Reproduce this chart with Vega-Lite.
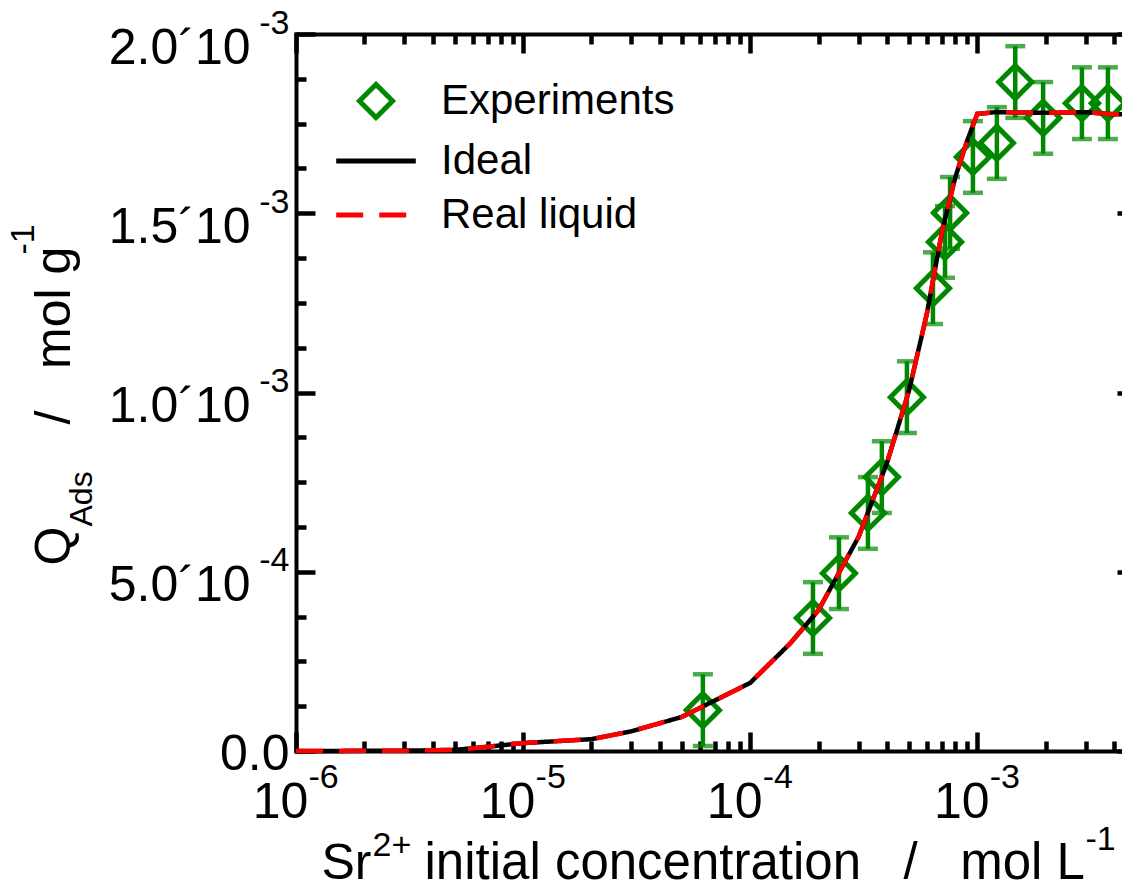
{
  "$schema": "https://vega.github.io/schema/vega-lite/v6.json",
  "width": 826,
  "height": 717,
  "autosize": {"type": "none"},
  "padding": {"left": 296, "top": 34, "right": 0, "bottom": 138},
  "background": "white",
  "usermeta": {"embedOptions": {"actions": false}},
  "config": {
    "view": {"stroke": null},
    "font": "Liberation Sans",
    "axis": {
      "grid": false,
      "labelFont": "Liberation Sans",
      "titleFont": "Liberation Sans",
      "labelColor": "black",
      "titleColor": "black",
      "tickColor": "black",
      "domainColor": "black",
      "titleFontWeight": "normal",
      "labelOverlap": false,
      "labelFlush": false,
      "labelBound": false,
      "labelLimit": 0,
      "titleLimit": 0
    },
    "legend": {
      "orient": "none",
      "legendX": 59,
      "legendY": 46,
      "labelFont": "Liberation Sans",
      "labelFontSize": 42,
      "labelColor": "black",
      "symbolSize": 1100,
      "symbolStrokeWidth": 5,
      "labelOffset": 44,
      "rowPadding": 12,
      "padding": 0,
      "labelLimit": 0
    }
  },
  "datasets": {
    "exp": [
      {"c": 6.19e-5, "q": 1.14e-4, "err": 1e-4, "series": "Experiments"},
      {"c": 1.89e-4, "q": 3.71e-4, "err": 1e-4, "series": "Experiments"},
      {"c": 2.46e-4, "q": 4.96e-4, "err": 1e-4, "series": "Experiments"},
      {"c": 3.30e-4, "q": 6.64e-4, "err": 1e-4, "series": "Experiments"},
      {"c": 3.80e-4, "q": 7.64e-4, "err": 1e-4, "series": "Experiments"},
      {"c": 4.90e-4, "q": 9.87e-4, "err": 1e-4, "series": "Experiments"},
      {"c": 6.38e-4, "q": 1.291e-3, "err": 1e-4, "series": "Experiments"},
      {"c": 7.21e-4, "q": 1.420e-3, "err": 1e-4, "series": "Experiments"},
      {"c": 7.59e-4, "q": 1.501e-3, "err": 1e-4, "series": "Experiments"},
      {"c": 9.57e-4, "q": 1.657e-3, "err": 1e-4, "series": "Experiments"},
      {"c": 1.22e-3, "q": 1.696e-3, "err": 1e-4, "series": "Experiments"},
      {"c": 1.47e-3, "q": 1.866e-3, "err": 1e-4, "series": "Experiments"},
      {"c": 1.95e-3, "q": 1.766e-3, "err": 1e-4, "series": "Experiments"},
      {"c": 2.89e-3, "q": 1.807e-3, "err": 1e-4, "series": "Experiments"},
      {"c": 3.76e-3, "q": 1.807e-3, "err": 1e-4, "series": "Experiments"}
    ],
    "ideal": [
      {"c": 1e-6, "q": 0, "series": "Ideal"},
      {"c": 2e-6, "q": 0.0000005, "series": "Ideal"},
      {"c": 3e-6, "q": 0.000001, "series": "Ideal"},
      {"c": 5e-6, "q": 0.000003, "series": "Ideal"},
      {"c": 7e-6, "q": 0.000012, "series": "Ideal"},
      {"c": 1e-5, "q": 0.000022, "series": "Ideal"},
      {"c": 2e-5, "q": 0.000033, "series": "Ideal"},
      {"c": 3e-5, "q": 0.000055, "series": "Ideal"},
      {"c": 5e-5, "q": 0.000095, "series": "Ideal"},
      {"c": 1e-4, "q": 0.00019, "series": "Ideal"},
      {"c": 1.5e-4, "q": 0.0003, "series": "Ideal"},
      {"c": 2e-4, "q": 0.000393, "series": "Ideal"},
      {"c": 3e-4, "q": 0.000597, "series": "Ideal"},
      {"c": 4e-4, "q": 0.000803, "series": "Ideal"},
      {"c": 5e-4, "q": 0.001004, "series": "Ideal"},
      {"c": 6e-4, "q": 0.00122, "series": "Ideal"},
      {"c": 7e-4, "q": 0.00145, "series": "Ideal"},
      {"c": 8e-4, "q": 0.0016, "series": "Ideal"},
      {"c": 9e-4, "q": 0.0017, "series": "Ideal"},
      {"c": 1e-3, "q": 0.001777, "series": "Ideal"},
      {"c": 1.2e-3, "q": 0.001782, "series": "Ideal"},
      {"c": 2e-3, "q": 0.00178, "series": "Ideal"},
      {"c": 3e-3, "q": 0.001782, "series": "Ideal"},
      {"c": 4e-3, "q": 0.001776, "series": "Ideal"},
      {"c": 5e-3, "q": 0.001776, "series": "Ideal"}
    ],
    "real": [
      {"c": 1e-6, "q": 0, "series": "Real liquid"},
      {"c": 2e-6, "q": 0.0000005, "series": "Real liquid"},
      {"c": 3e-6, "q": 0.000001, "series": "Real liquid"},
      {"c": 5e-6, "q": 0.000003, "series": "Real liquid"},
      {"c": 7e-6, "q": 0.000012, "series": "Real liquid"},
      {"c": 1e-5, "q": 0.000022, "series": "Real liquid"},
      {"c": 2e-5, "q": 0.000033, "series": "Real liquid"},
      {"c": 3e-5, "q": 0.000055, "series": "Real liquid"},
      {"c": 5e-5, "q": 0.000095, "series": "Real liquid"},
      {"c": 1e-4, "q": 0.00019, "series": "Real liquid"},
      {"c": 1.5e-4, "q": 0.0003, "series": "Real liquid"},
      {"c": 2e-4, "q": 0.000393, "series": "Real liquid"},
      {"c": 3e-4, "q": 0.000597, "series": "Real liquid"},
      {"c": 4e-4, "q": 0.000803, "series": "Real liquid"},
      {"c": 5e-4, "q": 0.001004, "series": "Real liquid"},
      {"c": 6e-4, "q": 0.00122, "series": "Real liquid"},
      {"c": 7e-4, "q": 0.00145, "series": "Real liquid"},
      {"c": 8e-4, "q": 0.0016, "series": "Real liquid"},
      {"c": 9e-4, "q": 0.0017, "series": "Real liquid"},
      {"c": 1e-3, "q": 0.001777, "series": "Real liquid"},
      {"c": 1.2e-3, "q": 0.001782, "series": "Real liquid"},
      {"c": 2e-3, "q": 0.00178, "series": "Real liquid"},
      {"c": 3e-3, "q": 0.001782, "series": "Real liquid"},
      {"c": 4e-3, "q": 0.001776, "series": "Real liquid"},
      {"c": 5e-3, "q": 0.001776, "series": "Real liquid"}
    ]
  },
  "layer": [
    {
      "data": {"name": "exp"},
      "mark": {"type": "errorbar", "ticks": true, "thickness": 4.5, "size": 20, "color": "#008800"},
      "encoding": {
        "x": {
          "field": "c", "type": "quantitative",
          "scale": {"type": "log", "domain": [1e-6, 5e-3], "range": [0, 840], "nice": false},
          "axis": {"orient": "bottom", "ticks": false, "domain": false, "labels": false,
            "title": "initial concentration\u00a0\u00a0\u00a0/\u00a0\u00a0\u00a0mol L", "titleFontSize": 51, "titleAlign": "left", "titleBaseline": "alphabetic", "titleAngle": 0, "titleX": 128, "titleY": 127}
        },
        "y": {
          "field": "q", "type": "quantitative",
          "scale": {"type": "linear", "domain": [0, 0.002], "nice": false, "zero": false},
          "axis": {"orient": "left", "ticks": false, "domain": false, "labels": false,
            "title": "/\u00a0\u00a0\u00a0mol g", "titleFontSize": 50, "titleAngle": 270, "titleAlign": "left", "titleBaseline": "alphabetic", "titleX": -227, "titleY": 390}
        },
        "yError": {"field": "err"}
      }
    },
    {
      "data": {"name": "exp"},
      "mark": {"type": "point", "filled": false, "size": 1100, "strokeWidth": 5, "opacity": 1},
      "encoding": {
        "x": {
          "field": "c", "type": "quantitative",
          "scale": {"type": "log", "domain": [1e-6, 5e-3], "range": [0, 840], "nice": false},
          "axis": {"orient": "top", "labels": false,
            "values": [1e-6,2e-6,3e-6,4e-6,5e-6,6e-6,7e-6,8e-6,9e-6,1e-5,2e-5,3e-5,4e-5,5e-5,6e-5,7e-5,8e-5,9e-5,1e-4,2e-4,3e-4,4e-4,5e-4,6e-4,7e-4,8e-4,9e-4,1e-3,2e-3,3e-3,4e-3,5e-3],
            "tickSize": {"condition": {"test": "abs(log(datum.value)/LN10 - round(log(datum.value)/LN10)) < 0.001", "value": -19}, "value": -10},
            "tickWidth": 4.5, "domainWidth": 4, "domainCap": "square",
            "title": "-1", "titleFontSize": 34, "titleAlign": "left", "titleBaseline": "alphabetic", "titleAngle": 0, "titleX": 789, "titleY": 815}
        },
        "y": {
          "field": "q", "type": "quantitative",
          "scale": {"type": "linear", "domain": [0, 0.002], "nice": false, "zero": false},
          "axis": {"orient": "right", "offset": 14, "labels": false,
            "values": [0,0.000125,0.00025,0.000375,0.0005,0.000625,0.00075,0.000875,0.001,0.001125,0.00125,0.001375,0.0015,0.001625,0.00175,0.001875,0.002],
            "tickSize": {"condition": {"test": "abs(datum.value/0.0005 - round(datum.value/0.0005)) < 0.001", "value": -19}, "value": -10},
            "tickWidth": 4.5, "domainWidth": 4, "domainCap": "square",
            "title": "-1", "titleFontSize": 34, "titleAngle": 270, "titleAlign": "left", "titleBaseline": "alphabetic", "titleX": -1103, "titleY": 220}
        },
        "color": {"field": "series", "type": "nominal",
          "scale": {"domain": ["Experiments", "Ideal", "Real liquid"], "range": ["#008800", "#000000", "#ff0000"]},
          "legend": {"title": null}},
        "shape": {"field": "series", "type": "nominal",
          "scale": {"domain": ["Experiments", "Ideal", "Real liquid"], "range": ["diamond", "M-2.4,0L2.4,0", "M-2.4,0L2.4,0"]},
          "legend": {"title": null}}
      }
    },
    {
      "data": {"name": "ideal"},
      "mark": {"type": "line", "strokeWidth": 4.5},
      "encoding": {
        "x": {
          "field": "c", "type": "quantitative",
          "scale": {"type": "log", "domain": [1e-6, 5e-3], "range": [0, 840], "nice": false},
          "axis": {"orient": "bottom",
            "values": [1e-6,2e-6,3e-6,4e-6,5e-6,6e-6,7e-6,8e-6,9e-6,1e-5,2e-5,3e-5,4e-5,5e-5,6e-5,7e-5,8e-5,9e-5,1e-4,2e-4,3e-4,4e-4,5e-4,6e-4,7e-4,8e-4,9e-4,1e-3,2e-3,3e-3,4e-3,5e-3],
            "labelExpr": "abs(log(datum.value)/LN10 - round(log(datum.value)/LN10)) < 0.001 ? '10' : ''",
            "tickSize": {"condition": {"test": "abs(log(datum.value)/LN10 - round(log(datum.value)/LN10)) < 0.001", "value": -19}, "value": -10},
            "tickWidth": 4.5, "domainWidth": 4, "domainCap": "square",
            "labelFontSize": 50, "labelAlign": "center", "labelBaseline": "alphabetic", "labelPadding": 85, "labelOffset": -16,
            "title": "Sr", "titleFontSize": 50, "titleAlign": "left", "titleBaseline": "alphabetic", "titleAngle": 0, "titleX": 25, "titleY": 127}
        },
        "y": {
          "field": "q", "type": "quantitative",
          "scale": {"type": "linear", "domain": [0, 0.002], "nice": false, "zero": false},
          "axis": {"orient": "left",
            "values": [0,0.000125,0.00025,0.000375,0.0005,0.000625,0.00075,0.000875,0.001,0.001125,0.00125,0.001375,0.0015,0.001625,0.00175,0.001875,0.002],
            "labelExpr": "datum.value == 0 ? '0.0' : (abs(datum.value/0.0005 - round(datum.value/0.0005)) < 0.001 ? (datum.value < 0.0009 ? '5.0´10' : format(datum.value*1000, '.1f') + '´10') : '')",
            "tickSize": {"condition": {"test": "abs(datum.value/0.0005 - round(datum.value/0.0005)) < 0.001", "value": -19}, "value": -10},
            "tickWidth": 4.5, "domainWidth": 4, "domainCap": "square",
            "labelFontSize": 50, "labelAlign": "right", "labelBaseline": "alphabetic",
            "labelPadding": {"condition": {"test": "datum.value == 0", "value": 26}, "value": 65},
            "labelOffset": {"condition": {"test": "datum.value == 0", "value": 18}, "value": 29},
            "title": "Q", "titleFontSize": 50, "titleAngle": 270, "titleAlign": "left", "titleBaseline": "alphabetic", "titleX": -227, "titleY": 531}
        },
        "color": {"field": "series", "type": "nominal",
          "scale": {"domain": ["Experiments", "Ideal", "Real liquid"], "range": ["#008800", "#000000", "#ff0000"]},
          "legend": {"title": null}},
        "strokeDash": {"field": "series", "type": "nominal",
          "scale": {"domain": ["Experiments", "Ideal", "Real liquid"], "range": [[1, 0], [1, 0], [27, 16]]},
          "legend": {"title": null}}
      }
    },
    {
      "data": {"name": "real"},
      "mark": {"type": "line", "strokeWidth": 4.5},
      "encoding": {
        "x": {
          "field": "c", "type": "quantitative",
          "scale": {"type": "log", "domain": [1e-6, 5e-3], "range": [0, 840], "nice": false},
          "axis": {"orient": "bottom", "values": [1e-6, 1e-5, 1e-4, 1e-3], "ticks": false, "domain": false,
            "labelExpr": "'-' + format(-round(log(datum.value)/LN10), 'd')",
            "labelFontSize": 34, "labelAlign": "left", "labelBaseline": "alphabetic", "labelPadding": 36, "labelOffset": 12,
            "title": "2+", "titleFontSize": 34, "titleAlign": "left", "titleBaseline": "alphabetic", "titleAngle": 0, "titleX": 76, "titleY": 104}
        },
        "y": {
          "field": "q", "type": "quantitative",
          "scale": {"type": "linear", "domain": [0, 0.002], "nice": false, "zero": false},
          "axis": {"orient": "left", "values": [0.0005, 0.001, 0.0015, 0.002], "ticks": false, "domain": false,
            "labelExpr": "datum.value < 0.0009 ? '-4' : '-3'",
            "labelFontSize": 34, "labelAlign": "right", "labelBaseline": "alphabetic", "labelPadding": 7, "labelOffset": -1,
            "title": "Ads", "titleFontSize": 32, "titleAngle": 270, "titleAlign": "left", "titleBaseline": "alphabetic", "titleX": -205, "titleY": 492}
        },
        "color": {"field": "series", "type": "nominal",
          "scale": {"domain": ["Experiments", "Ideal", "Real liquid"], "range": ["#008800", "#000000", "#ff0000"]},
          "legend": {"title": null}},
        "strokeDash": {"field": "series", "type": "nominal",
          "scale": {"domain": ["Experiments", "Ideal", "Real liquid"], "range": [[1, 0], [1, 0], [27, 16]]},
          "legend": {"title": null}}
      }
    }
  ],
  "resolve": {"axis": {"x": "independent", "y": "independent"}}
}
